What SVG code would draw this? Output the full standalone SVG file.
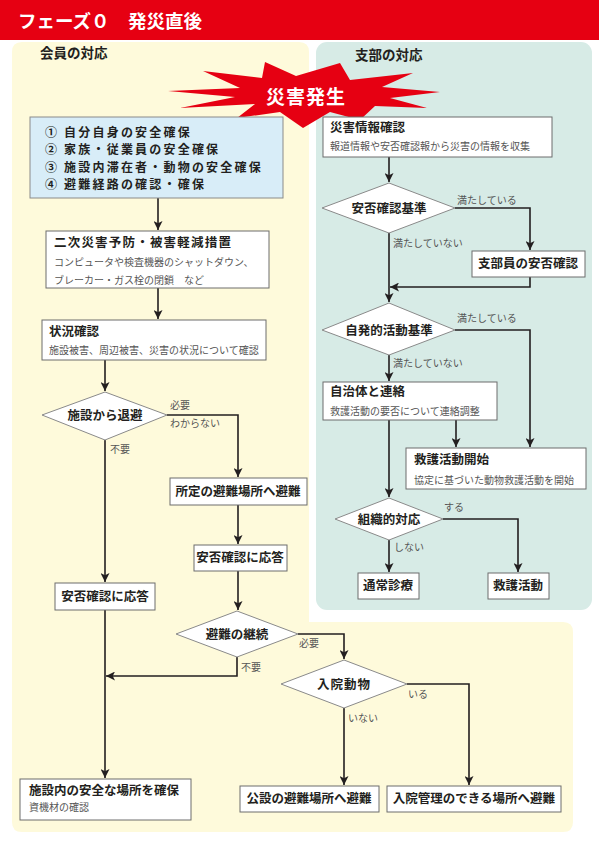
<svg xmlns="http://www.w3.org/2000/svg" width="599" height="842" viewBox="0 0 599 842">
<defs>
<marker id="ah" viewBox="0 0 10 10" refX="10" refY="5" markerWidth="9" markerHeight="9" markerUnits="userSpaceOnUse" orient="auto">
<path d="M0,0 L10,5 L0,10 L2.5,5 Z" fill="#231f20"/>
</marker>
<style>
text{font-family:"Noto Sans CJK JP","Noto Sans",sans-serif;fill:#231f20}
.box{fill:#fff;stroke:#6d6d6d;stroke-width:1}
.dia{fill:#fff;stroke:#8a8a8a;stroke-width:1}
.t{font-size:12.5px;font-weight:700}
.tc{font-size:12.5px;font-weight:700;text-anchor:middle}
.s{font-size:10px;fill:#555}
.lb{font-size:10px;fill:#555}
.b1{font-size:12px;font-weight:700;letter-spacing:2.2px}
.c path{fill:none;stroke:#231f20;stroke-width:1.6;marker-end:url(#ah)}
</style>
</defs>
<rect width="599" height="842" fill="#fff"/>
<rect x="0" y="0" width="599" height="40" fill="#e60012"/>
<text x="18" y="28" style="font-size:18.5px;font-weight:700;fill:#fff">フェーズ０　発災直後</text>

<path d="M22,42 L299,42 Q309,42 309,52 L309,622 L563,622 Q573,622 573,632 L573,822 Q573,832 563,832 L22,832 Q12,832 12,822 L12,52 Q12,42 22,42 Z" fill="#fefadb"/>
<rect x="316" y="42" width="276" height="568" rx="11" fill="#d7ebe6"/>

<text x="40" y="58" style="font-size:13.5px;font-weight:700">会員の対応</text>
<text x="355" y="60" style="font-size:13.5px;font-weight:700">支部の対応</text>

<g id="burst">
<polygon points="168,91 240,88 203,71 262,78 265,62 296,76 340,63 350,80 413,73 382,87 440,92 390,98 427,108 375,106 360,120 330,112 303,128 280,112 237,118 255,104 180,108 235,97" fill="#e60012"/>
<text x="306" y="104" style="font-size:19px;font-weight:700;fill:#fff;text-anchor:middle;letter-spacing:1px">災害発生</text>
</g>

<g class="c" id="connectors">
<path d="M158,198 V230"/>
<path d="M158,288 V319"/>
<path d="M105,360 V391"/>
<path d="M167,415 H238 V477"/>
<path d="M105,440 V582"/>
<path d="M238,505 V544"/>
<path d="M238,571 V610"/>
<path d="M105,610 V778"/>
<path d="M237,657 V676 H106"/>
<path d="M298,634 H344 V659"/>
<path d="M344,708 V785"/>
<path d="M407,684 H469 V785"/>
<path d="M389,157 V182"/>
<path d="M455,208 H530 V250"/>
<path d="M389,233 V302"/>
<path d="M530,277 V287 H390"/>
<path d="M455,330 H530 V447"/>
<path d="M389,355 V381"/>
<path d="M456,420 V447"/>
<path d="M389,420 V497"/>
<path d="M443,519 H518 V572"/>
<path d="M389,540 V572"/>
</g>

<g id="n-safety">
<rect x="30" y="117" width="253" height="81" fill="#d8edf8" stroke="#8a8a8a"/>
<text class="b1" x="45" y="137">①  自分自身の安全確保</text>
<text class="b1" x="45" y="154.3">②  家族・従業員の安全確保</text>
<text class="b1" x="45" y="171.6">③  施設内滞在者・動物の安全確保</text>
<text class="b1" x="45" y="189">④  避難経路の確認・確保</text>
</g>

<g id="n-secondary">
<rect class="box" x="46" y="231" width="223" height="57"/>
<text class="t" x="54" y="247" style="letter-spacing:1.2px">二次災害予防・被害軽減措置</text>
<text class="s" x="54" y="266">コンピュータや検査機器のシャットダウン、</text>
<text class="s" x="54" y="284">ブレーカー・ガス栓の閉鎖　など</text>
</g>

<g id="n-status">
<rect class="box" x="42" y="320" width="224" height="40"/>
<text class="t" x="49" y="336">状況確認</text>
<text class="s" x="49" y="354">施設被害、周辺被害、災害の状況について確認</text>
</g>

<g id="d-evacuate">
<polygon class="dia" points="42,415 105,392 167,415 105,440"/>
<text class="tc" x="105" y="420">施設から退避</text>
<text class="lb" x="170" y="409">必要</text>
<text class="lb" x="170" y="427">わからない</text>
<text class="lb" x="110" y="453">不要</text>
</g>

<g id="n-designated">
<rect class="box" x="170" y="478" width="137" height="27"/>
<text class="tc" x="238" y="496">所定の避難場所へ避難</text>
</g>

<g id="n-answer-right">
<rect class="box" x="194" y="545" width="93" height="26"/>
<text class="tc" x="240" y="562">安否確認に応答</text>
</g>

<g id="n-answer-left">
<rect class="box" x="55" y="583" width="100" height="27"/>
<text class="tc" x="105" y="601">安否確認に応答</text>
</g>

<g id="d-continue">
<polygon class="dia" points="176,634 237,611 298,634 237,657"/>
<text class="tc" x="237" y="639">避難の継続</text>
<text class="lb" x="241" y="671">不要</text>
<text class="lb" x="299" y="647">必要</text>
</g>

<g id="d-inpatient">
<polygon class="dia" points="281,684 344,660 407,684 344,708"/>
<text class="tc" x="344" y="689" style="letter-spacing:1px">入院動物</text>
<text class="lb" x="408" y="698">いる</text>
<text class="lb" x="348" y="722">いない</text>
</g>

<g id="n-inside">
<rect class="box" x="20" y="779" width="171" height="41"/>
<text class="t" x="29" y="795">施設内の安全な場所を確保</text>
<text class="s" x="29" y="811">資機材の確認</text>
</g>

<g id="n-public">
<rect class="box" x="240" y="786" width="139" height="26"/>
<text class="tc" x="309" y="803">公設の避難場所へ避難</text>
</g>

<g id="n-hospital">
<rect class="box" x="387" y="786" width="174" height="26"/>
<text class="tc" x="474" y="803">入院管理のできる場所へ避難</text>
</g>

<g id="n-info">
<rect class="box" x="323" y="117" width="229" height="40"/>
<text class="t" x="330" y="132">災害情報確認</text>
<text class="s" x="330" y="150">報道情報や安否確認報から災害の情報を収集</text>
</g>

<g id="d-criteria1">
<polygon class="dia" points="322,208 389,183 455,208 389,233"/>
<text class="tc" x="389" y="213">安否確認基準</text>
<text class="lb" x="457" y="204">満たしている</text>
<text class="lb" x="393" y="247">満たしていない</text>
</g>

<g id="n-member">
<rect class="box" x="472" y="251" width="113" height="26"/>
<text class="tc" x="528" y="268">支部員の安否確認</text>
</g>

<g id="d-criteria2">
<polygon class="dia" points="322,330 389,303 455,330 389,355"/>
<text class="tc" x="389" y="335">自発的活動基準</text>
<text class="lb" x="457" y="322">満たしている</text>
<text class="lb" x="393" y="367">満たしていない</text>
</g>

<g id="n-municipal">
<rect class="box" x="323" y="382" width="174" height="38"/>
<text class="t" x="330" y="396">自治体と連絡</text>
<text class="s" x="330" y="415">救護活動の要否について連絡調整</text>
</g>

<g id="n-rescue-start">
<rect class="box" x="406" y="448" width="180" height="41"/>
<text class="t" x="414" y="464">救護活動開始</text>
<text class="s" x="414" y="484">協定に基づいた動物救護活動を開始</text>
</g>

<g id="d-org">
<polygon class="dia" points="335,519 389,498 443,519 389,540"/>
<text class="tc" x="389" y="524">組織的対応</text>
<text class="lb" x="444" y="511">する</text>
<text class="lb" x="394" y="551">しない</text>
</g>

<g id="n-normal">
<rect class="box" x="358" y="573" width="61" height="26"/>
<text class="tc" x="388" y="590">通常診療</text>
</g>

<g id="n-rescue">
<rect class="box" x="488" y="573" width="61" height="26"/>
<text class="tc" x="518" y="590">救護活動</text>
</g>
</svg>
